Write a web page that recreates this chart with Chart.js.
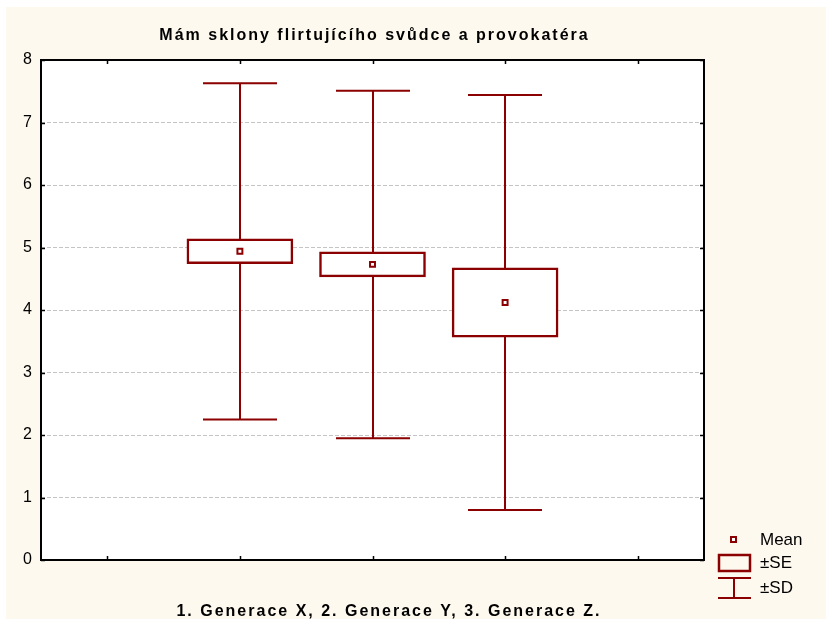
<!DOCTYPE html>
<html>
<head>
<meta charset="utf-8">
<script src="https://cdn.jsdelivr.net/npm/chart.js@4.4.1/dist/chart.umd.min.js"></script>
<style>
  html, body { margin: 0; padding: 0; background: #ffffff; }
  #wrap { width: 832px; height: 626px; }
</style>
</head>
<body>
<div id="wrap"><canvas id="chart" width="832" height="626"></canvas></div>
<script>
// values
var groups = [1, 2, 3];
var means  = [4.94, 4.73, 4.12];
var seVals = [0.20, 0.20, 0.555];
var sdVals = [2.69, 2.78, 3.32];
var yTicks = [0, 1, 2, 3, 4, 5, 6, 7, 8];

var titleText = 'Mám sklony flirtujícího svůdce a provokatéra';
var xTitleText = '1. Generace X, 2. Generace Y, 3. Generace Z.';

var dark = '#8b0000';
var cream = '#fef9ee';

var seBoxes = groups.map(function (g, i) {
    return { x: g, y: [means[i] - seVals[i], means[i] + seVals[i]] };
});
var meanPts = groups.map(function (g, i) {
    return { x: g, y: means[i] };
});

function spacedText(ctx, text, cx, cy, spacing) {
    ctx.letterSpacing = spacing + 'px';
    var w = ctx.measureText(text).width - spacing;
    ctx.textAlign = 'left';
    ctx.fillText(text, cx - w / 2, cy);
    ctx.letterSpacing = '0px';
}

// background, whiskers, frame, inward ticks, titles and legend
var statPlugin = {
    id: 'statPlugin',
    beforeDraw: function (chart) {
        var ctx = chart.ctx, a = chart.chartArea;
        ctx.save();
        ctx.fillStyle = '#ffffff';
        ctx.fillRect(0, 0, chart.width, chart.height);
        ctx.fillStyle = cream;
        ctx.fillRect(6, 7, chart.width - 12, chart.height - 14);
        ctx.fillStyle = '#ffffff';
        ctx.fillRect(a.left, a.top, a.right - a.left, a.bottom - a.top);
        ctx.restore();
    },
    beforeDatasetsDraw: function (chart) {
        var ctx = chart.ctx;
        var xs = chart.scales.x, ys = chart.scales.y;
        ctx.save();
        ctx.strokeStyle = dark;
        ctx.lineWidth = 2;
        groups.forEach(function (g, i) {
            var x = Math.round(xs.getPixelForValue(g));
            var yHi = ys.getPixelForValue(means[i] + sdVals[i]);
            var yLo = ys.getPixelForValue(means[i] - sdVals[i]);
            ctx.beginPath();
            ctx.moveTo(x, yHi); ctx.lineTo(x, yLo);
            ctx.moveTo(x - 37, yHi); ctx.lineTo(x + 37, yHi);
            ctx.moveTo(x - 37, yLo); ctx.lineTo(x + 37, yLo);
            ctx.stroke();
        });
        ctx.restore();
    },
    afterDraw: function (chart) {
        var ctx = chart.ctx, a = chart.chartArea;
        var xs = chart.scales.x, ys = chart.scales.y;
        ctx.save();
        // frame
        ctx.strokeStyle = '#000000';
        ctx.lineWidth = 2;
        ctx.strokeRect(a.left, a.top, a.right - a.left, a.bottom - a.top);
        // inward ticks
        ctx.lineWidth = 1.5;
        ctx.beginPath();
        yTicks.forEach(function (v) {
            var y = Math.round(ys.getPixelForValue(v)) + 0.5;
            ctx.moveTo(a.left, y); ctx.lineTo(a.left + 4, y);
            ctx.moveTo(a.right, y); ctx.lineTo(a.right - 4, y);
        });
        [0, 1, 2, 3, 4].forEach(function (v) {
            var x = Math.round(xs.getPixelForValue(v)) + 0.5;
            ctx.moveTo(x, a.top); ctx.lineTo(x, a.top + 4);
            ctx.moveTo(x, a.bottom); ctx.lineTo(x, a.bottom - 4);
        });
        ctx.stroke();

        // titles
        ctx.fillStyle = '#000000';
        ctx.textBaseline = 'middle';
        ctx.font = 'bold 16px "Liberation Sans", Arial, sans-serif';
        spacedText(ctx, titleText, (a.left + a.right) / 2 + 1, 36, 2);
        spacedText(ctx, xTitleText, 388, 612, 2);

        // legend
        var lx = 734;
        ctx.strokeStyle = dark;
        ctx.fillStyle = '#ffffff';
        ctx.lineWidth = 2;
        ctx.fillRect(731, 537, 5, 5);
        ctx.strokeRect(731, 537, 5, 5);
        ctx.lineWidth = 2.5;
        ctx.strokeRect(719, 555, 31, 16);
        ctx.lineWidth = 2;
        ctx.beginPath();
        ctx.moveTo(718, 578); ctx.lineTo(751, 578);
        ctx.moveTo(lx, 578); ctx.lineTo(lx, 598);
        ctx.moveTo(718, 598); ctx.lineTo(751, 598);
        ctx.stroke();
        ctx.fillStyle = '#000000';
        ctx.font = '17px "Liberation Sans", Arial, sans-serif';
        ctx.textAlign = 'left';
        ctx.fillText('Mean', 760, 540);
        ctx.fillText('\u00b1SE', 760, 563);
        ctx.fillText('\u00b1SD', 760, 588);
        ctx.restore();
    }
};

Chart.defaults.font.family = '"Liberation Sans", Arial, sans-serif';
Chart.defaults.color = '#000000';

var chart = new Chart(document.getElementById('chart'), {
    type: 'bar',
    data: {
        datasets: [{
            type: 'line',
            label: 'Mean',
            data: meanPts,
            showLine: false,
            pointStyle: 'rect',
            pointRadius: 3.5,
            pointBorderWidth: 2,
            pointBackgroundColor: '#ffffff',
            pointBorderColor: dark,
            order: 0
        }, {
            label: '\u00b1SE',
            data: seBoxes,
            backgroundColor: '#ffffff',
            borderColor: dark,
            borderWidth: 2.5,
            borderSkipped: false,
            barThickness: 106,
            grouped: false,
            order: 1
        }]
    },
    options: {
        responsive: false,
        animation: false,
        layout: { padding: { top: 60, right: 128, left: 0, bottom: 0 } },
        plugins: {
            legend: { display: false },
            tooltip: { enabled: false },
            title: { display: false }
        },
        scales: {
            x: {
                type: 'linear',
                offset: false,
                min: -0.5,
                max: 4.5,
                grid: { display: false, drawTicks: false },
                border: { display: false },
                ticks: {
                    stepSize: 1,
                    padding: 10,
                    font: { size: 16 },
                    callback: function (v) { return groups.indexOf(v) >= 0 ? String(v) : ''; }
                },
                afterFit: function (s) { s.height = 66; }
            },
            y: {
                min: 0,
                max: 8,
                grid: {
                    drawTicks: false,
                    color: function (c) { return (c.tick.value === 0 || c.tick.value === 8) ? 'rgba(0,0,0,0)' : '#c4c4c4'; },
                    lineWidth: 1
                },
                border: { display: false, dash: [4, 2] },
                ticks: {
                    stepSize: 1,
                    padding: 9,
                    font: { size: 16 }
                },
                afterFit: function (s) { s.width = 41; }
            }
        }
    },
    plugins: [statPlugin]
});
</script>
</body>
</html>
